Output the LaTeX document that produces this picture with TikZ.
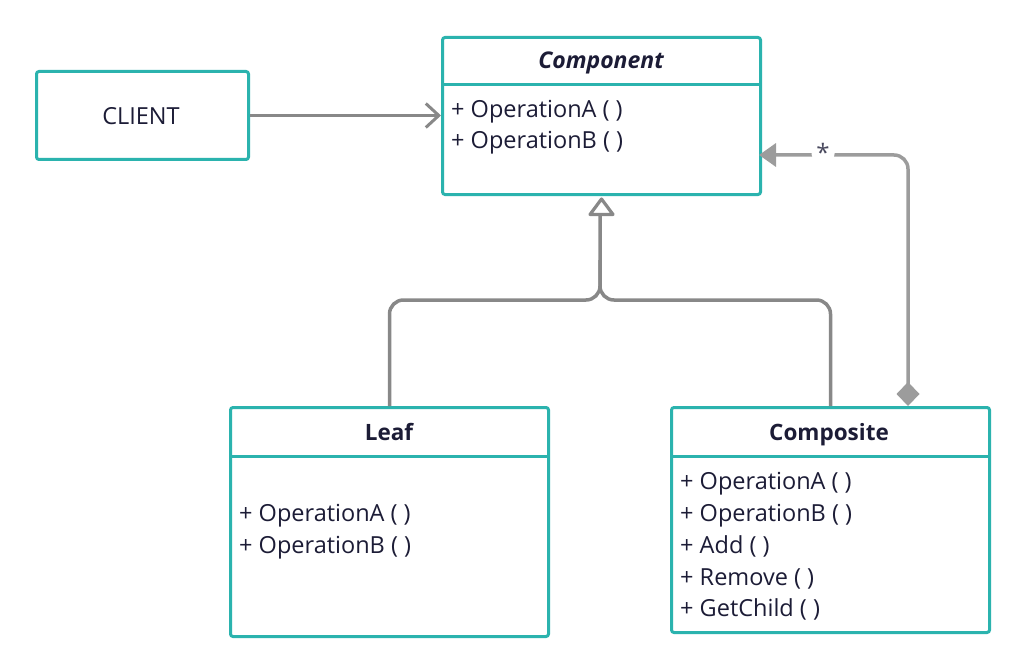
\documentclass[tikz,border=0pt]{standalone}
\usepackage{fontspec}
\setmainfont{Open Sans}
\usetikzlibrary{arrows.meta}
\definecolor{teal1}{HTML}{2BB3AE}
\definecolor{ink}{HTML}{1C1C36}
\definecolor{conngray}{HTML}{888888}
\definecolor{conngray2}{HTML}{9C9C9C}
\tikzset{
  box/.style={draw=teal1, line width=3pt, rounded corners=2.5pt, fill=white, anchor=north west, inner sep=0pt},
  divider/.style={draw=teal1, line width=3pt},
  item/.style={anchor=base west, inner sep=0pt, text=ink, font=\fontsize{23.5}{26}\selectfont},
  title/.style={anchor=base, inner sep=0pt, text=ink, font=\fontsize{22.5}{26}\selectfont\bfseries},
  conn/.style={draw=conngray, line width=3.5pt},
}
\begin{document}
\begin{tikzpicture}[x=1pt,y=-1pt]
\useasboundingbox (0,0) rectangle (1024,671);
% boxes
\node[box, minimum width=212pt, minimum height=88pt] (client) at (35,70) {};
\node[item, anchor=center] (clienttxt) at (141,116) {CLIENT};

\node[box, minimum width=318pt, minimum height=157pt] (comp) at (441,36) {};
\draw[divider] (441,85) -- (759,85);
\node[title, font=\fontsize{23}{26}\selectfont\itshape\bfseries] (comptitle) at (601,69) {Component};
\node[item] (ca) at (451,118) {+ OperationA ( )};
\node[item] (cb) at (451,149) {+ OperationB ( )};

\node[box, minimum width=318pt, minimum height=229pt] (leaf) at (229,406) {};
\draw[divider] (229,456) -- (547,456);
\node[title] (leaftitle) at (389,440) {Leaf};
\node[item] (la) at (239,521) {+ OperationA ( )};
\node[item] (lb) at (239,553) {+ OperationB ( )};

\node[box, minimum width=318pt, minimum height=225pt] (composite) at (670,406) {};
\draw[divider] (670,456) -- (988,456);
\node[title] (comptitle2) at (829,440) {Composite};
\node[item] (pa) at (680,489) {+ OperationA ( )};
\node[item] (pb) at (680,521) {+ OperationB ( )};
\node[item] (pc) at (680,553) {+ Add ( )};
\node[item] (pd) at (680,585) {+ Remove ( )};
\node[item] (pe) at (680,616) {+ GetChild ( )};

% client -> component
\draw[conn, line width=3pt, -{Straight Barb[length=13pt, width=24pt, line width=3pt]}] (client.east) -- (comp.west |- client.east);

% inheritance
\coordinate (join) at (600,300);
\draw[conn, rounded corners=14pt] (composite.north) |- (join) -- (600,260);
\draw[conn, rounded corners=14pt] (leaf.north) |- (join) -- (600,210);
\draw[conn, line width=3.2pt, fill=white, line join=round] (comp.south) ++(0,3) -- ++(11.5,15.5) -- ++(-23,0) -- cycle;

% aggregation
\coordinate (aggstart) at (908,406);
\coordinate (aggend) at (759,155);
\draw[draw=conngray2, line width=3.5pt, rounded corners=14pt, {Diamond[length=24pt, width=23pt]}-{Triangle[length=17pt, width=23pt]}] (aggstart) |- (aggend)
  node[pos=0.785, fill=white, inner sep=5pt, yshift=3pt, text=ink!80, font=\fontsize{24}{26}\selectfont] (star) {*};
\end{tikzpicture}
\end{document}
